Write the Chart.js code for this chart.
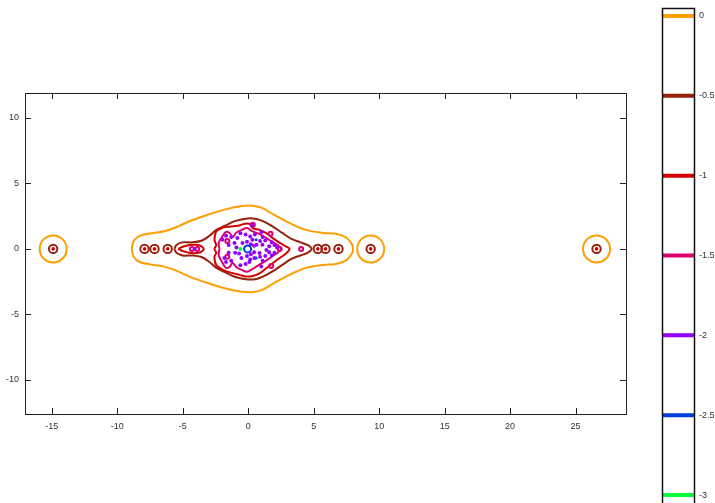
<!DOCTYPE html>
<html>
<head>
<meta charset="utf-8">
<script src="https://cdn.jsdelivr.net/npm/chart.js@4.4.1/dist/chart.umd.min.js"></script>
<style>
    html, body { margin: 0; padding: 0; background: #fff; }
    #wrap { position: relative; width: 715px; height: 503px; overflow: hidden; }
    #main { position: absolute; left: 0; top: 0; }
    #bar { position: absolute; left: 640px; top: 0; }
</style>
</head>
<body>
<div id="wrap">
    <canvas id="main" width="715" height="503"></canvas>
    <canvas id="bar" width="75" height="503"></canvas>
</div>
<script>
// contour levels and their colours (colour bar)
const levels = [0, -0.5, -1, -1.5, -2, -2.5, -3]
const levelColors = ['#ff9e00', '#96200a', '#d20000', '#dc006e', '#9600ff', '#003cdc', '#00ff3c']

// axis ticks
const xTicks = [-15, -10, -5, 0, 5, 10, 15, 20, 25]
const yTicks = [-10, -5, 0, 5, 10]

// level 0: main outline
const orangeX = [-8.9, -8.75, -8.3, -7.4, -6.4, -5.4, -4.4, -3.1, -1.8, -0.6, 0.3, 1.0, 1.9, 3.1, 4.4, 5.7, 6.7, 7.5, 7.95, 8.0,
    7.95, 7.5, 6.7, 5.7, 4.4, 3.1, 1.9, 1.0, 0.3, -0.6, -1.8, -3.1, -4.4, -5.4, -6.4, -7.4, -8.3, -8.75, -8.9]
const orangeY = [0, 0.6, 1.0, 1.2, 1.35, 1.7, 2.15, 2.6, 3.0, 3.25, 3.3, 3.15, 2.65, 2.0, 1.45, 1.22, 1.15, 0.85, 0.3, 0,
    -0.3, -0.85, -1.15, -1.22, -1.45, -2.0, -2.65, -3.15, -3.3, -3.25, -3.0, -2.6, -2.15, -1.7, -1.35, -1.2, -1.0, -0.6, 0]
// level 0: isolated rings
const orangeRingX = [-14.9, 9.35, 26.6]

// level -0.5: main outline
const darkRedX = [-5.64, -5.48, -5.03, -4.26, -3.57, -2.96, -2.43, -1.82, -0.98, -0.06, 0.63, 1.16, 1.85, 2.6, 3.3, 3.99, 4.52, 4.83,
    4.52, 3.99, 3.3, 2.6, 1.85, 1.16, 0.63, -0.06, -0.98, -1.82, -2.43, -2.96, -3.57, -4.26, -5.03, -5.48, -5.64]
const darkRedY = [0, 0.3, 0.5, 0.5, 0.62, 1.0, 1.45, 1.75, 2.14, 2.33, 2.29, 2.1, 1.72, 1.22, 0.76, 0.5, 0.3, 0,
    -0.3, -0.5, -0.76, -1.22, -1.72, -2.1, -2.29, -2.33, -2.14, -1.75, -1.45, -1.0, -0.62, -0.5, -0.5, -0.3, 0]
// level -0.5 and -1: small rings around the isolated points
const smallRingX = [-14.9, 9.35, 26.6, -7.92, -7.16, -6.15, 5.31, 5.9, 6.89]

// level -1: main blob and left lobe
const redX = [-2.6, -2.45, -2.58, -2.45, -2.07, -1.44, -0.8, -0.29, 0.09, 0.34, 0.86, 1.37, 1.87, 2.38, 2.9, 3.15,
    2.9, 2.38, 1.87, 1.37, 0.86, 0.34, -0.16, -0.67, -1.18, -1.94, -2.45, -2.58, -2.45, -2.6]
const redY = [0, 0.3, 0.69, 1.32, 1.58, 1.7, 1.76, 1.91, 1.91, 1.58, 1.45, 1.2, 0.82, 0.48, 0.18, 0,
    -0.33, -0.71, -1.09, -1.48, -1.86, -2.06, -2.11, -1.98, -1.85, -1.6, -1.22, -0.59, -0.3, 0]
const redLobeX = [-5.35, -5.0, -4.5, -4.0, -3.6, -3.4, -3.6, -4.0, -4.5, -5.0, -5.35]
const redLobeY = [0, 0.17, 0.3, 0.32, 0.22, 0, -0.22, -0.32, -0.3, -0.17, 0]

// level -1.5: wiggly outline and spots
const pinkX = [-2.2, -2.25, -2.0, -1.7, -1.4, -1.2, -0.9, -0.5, -0.1, 0.3, 0.7, 1.1, 1.5, 1.9, 2.3, 2.5,
    2.3, 1.9, 1.5, 1.1, 0.7, 0.3, -0.1, -0.5, -0.9, -1.2, -1.4, -1.7, -2.0, -2.25, -2.2]
const pinkY = [0, 0.5, 0.9, 1.3, 1.2, 0.9, 1.25, 1.45, 1.6, 1.35, 1.2, 1.0, 0.75, 0.5, 0.25, 0,
    -0.25, -0.5, -0.8, -1.05, -1.3, -1.55, -1.75, -1.6, -1.4, -1.05, -1.35, -1.45, -1.0, -0.5, 0]
const pinkSpotX = [-4.3, -3.9, 4.04, 1.7, 1.75, 2.4, -1.6, -1.6, 0.35]
const pinkSpotY = [0, 0, 0, 1.15, -1.3, 0, 0.6, -0.6, 1.85]

// level -2: spots
const purpleX = [-1.97, -1.82, -1.05, -0.83, -0.44, 0.32, 0.63, 0.86, 0.47, 0.09, -0.52, 1.08, 1.39, 1.8, 1.8, 2.2, 1.1, 1.1,
    0.5, -0.2, -0.2, -1.3, -1.3, 0.2, 0.2, -1.0, -4.1, 0.32,
    -1.5, -1.5, -0.9, -0.7, -0.1, -0.1, 0.15, 0.15, 0.9, 0.9, 1.3, 1.3, 1.6, 1.6, 2.0, 2.0, 0.45, 0.45, -1.7, -1.7, -0.6, -0.6, 1.0, 1.0]
const purpleY = [0.69, -0.69, 0.46, 0.84, 0.46, 0.69, 0.31, -0.31, -0.69, -0.99, -0.69, 0.31, -0.08, 0.5, -0.5, 0.1, 0.9, -0.9,
    1.1, 1.1, -1.15, 0.9, -0.9, 0.35, -0.4, -0.3, 0, 1.83,
    0.3, -0.3, 0.1, -0.35, 0.55, -0.55, 0.95, -0.8, 0.6, -0.6, 0.65, -0.55, 0.2, -0.25, 0.3, -0.3, 0.25, -0.25, 1.0, -1.0, 1.2, -1.25, 1.3, -1.35]

// level -2.5 and -3
const blueX = [-0.05, 0.6, 0.6]
const blueY = [0, 0.7, -0.7]
const greenX = [-0.6]
const greenY = [0]

const pts = (xs, ys) => xs.map((x, i) => ({ x, y: ys ? ys[i] : 0 }))

function contour(xs, ys, color) {
    return {
        data: pts(xs, ys),
        showLine: true,
        borderColor: color,
        borderWidth: 2,
        pointRadius: 0,
        tension: 0.35,
        fill: false
    }
}

function spots(xs, ys, color, r, filled) {
    return {
        data: pts(xs, ys),
        showLine: false,
        pointStyle: 'circle',
        pointRadius: r,
        pointBorderWidth: filled ? 0 : 2,
        pointBorderColor: color,
        pointBackgroundColor: filled ? color : 'transparent'
    }
}

// no label padding, so the chart area lands exactly where asked
const noPad = s => { s.paddingTop = 0; s.paddingBottom = 0; s.paddingLeft = 0; s.paddingRight = 0 }

const frame = {
    id: 'frame',
    afterDraw(chart) {
        const { ctx, chartArea: a, scales: { x, y } } = chart
        ctx.save()
        ctx.strokeStyle = '#222'
        ctx.lineWidth = 1
        ctx.strokeRect(a.left + 0.5, a.top + 0.5, a.right - a.left, a.bottom - a.top)
        ctx.beginPath()
        xTicks.forEach(v => {
            const px = Math.round(x.getPixelForValue(v)) + 0.5
            ctx.moveTo(px, a.bottom); ctx.lineTo(px, a.bottom - 6)
            ctx.moveTo(px, a.top); ctx.lineTo(px, a.top + 6)
        })
        yTicks.forEach(v => {
            const py = Math.round(y.getPixelForValue(v)) + 0.5
            ctx.moveTo(a.left, py); ctx.lineTo(a.left + 6, py)
            ctx.moveTo(a.right, py); ctx.lineTo(a.right - 6, py)
        })
        ctx.stroke()
        ctx.restore()
    }
}

Chart.defaults.font.family = "'Liberation Sans', Arial, sans-serif"
Chart.defaults.font.size = 9
Chart.defaults.color = '#333'

new Chart(document.getElementById('main'), {
    type: 'scatter',
    data: {
        datasets: [
            spots(greenX, greenY, levelColors[6], 2, true),
            spots(blueX.slice(0, 1), blueY.slice(0, 1), levelColors[5], 3.5, false),
            spots(blueX.slice(1), blueY.slice(1), levelColors[5], 1.5, true),
            spots(purpleX, purpleY, levelColors[4], 2, true),
            spots(pinkSpotX, pinkSpotY, levelColors[3], 2, false),
            contour(pinkX, pinkY, levelColors[3]),
            spots(smallRingX, null, levelColors[2], 1.8, true),
            contour(redX, redY, levelColors[2]),
            contour(redLobeX, redLobeY, levelColors[2]),
            spots(smallRingX, null, levelColors[1], 4.2, false),
            contour(darkRedX, darkRedY, levelColors[1]),
            spots(orangeRingX, null, levelColors[0], 13.5, false),
            contour(orangeX, orangeY, levelColors[0])
        ]
    },
    options: {
        responsive: false,
        animation: false,
        layout: { padding: { top: 93, right: 89, bottom: 0, left: 0 } },
        plugins: { legend: { display: false }, tooltip: { enabled: false } },
        scales: {
            x: {
                type: 'linear',
                min: -17.05,
                max: 28.85,
                afterBuildTicks: s => { s.ticks = xTicks.map(value => ({ value })) },
                afterFit: s => { s.height = 89; noPad(s) },
                grid: { display: false, drawTicks: false },
                border: { display: false },
                ticks: { padding: 7, maxRotation: 0 }
            },
            y: {
                type: 'linear',
                min: -12.6,
                max: 11.9,
                afterBuildTicks: s => { s.ticks = yTicks.map(value => ({ value })) },
                afterFit: s => { s.width = 25; noPad(s) },
                grid: { display: false, drawTicks: false },
                border: { display: false },
                ticks: { padding: 6 }
            }
        }
    },
    plugins: [frame]
})

// colour bar
const barBox = {
    id: 'barBox',
    afterDraw(chart) {
        const { ctx, chartArea: a } = chart
        ctx.save()
        ctx.strokeStyle = '#111'
        ctx.lineWidth = 1.5
        ctx.beginPath()
        ctx.moveTo(a.left + 0.5, chart.height + 2)
        ctx.lineTo(a.left + 0.5, a.top + 0.5)
        ctx.lineTo(a.right - 0.5, a.top + 0.5)
        ctx.lineTo(a.right - 0.5, chart.height + 2)
        ctx.stroke()
        ctx.restore()
    }
}

new Chart(document.getElementById('bar'), {
    type: 'scatter',
    data: {
        datasets: levels.map((lvl, i) => ({
            data: [{ x: 0, y: lvl }, { x: 1, y: lvl }],
            showLine: true,
            borderColor: levelColors[i],
            borderWidth: 4,
            pointRadius: 0
        }))
    },
    options: {
        responsive: false,
        animation: false,
        layout: { padding: { top: 8, right: 0, bottom: 0, left: 22 } },
        plugins: { legend: { display: false }, tooltip: { enabled: false } },
        scales: {
            x: { type: 'linear', min: 0, max: 1, display: false },
            y: {
                type: 'linear',
                position: 'right',
                min: -3.05,
                max: 0.05,
                afterBuildTicks: s => { s.ticks = levels.map(value => ({ value })) },
                afterFit: s => { s.width = 20; noPad(s) },
                grid: { display: false, drawTicks: false },
                border: { display: false },
                ticks: { padding: 4, callback: v => String(v) }
            }
        }
    },
    plugins: [barBox]
})
</script>
</body>
</html>
